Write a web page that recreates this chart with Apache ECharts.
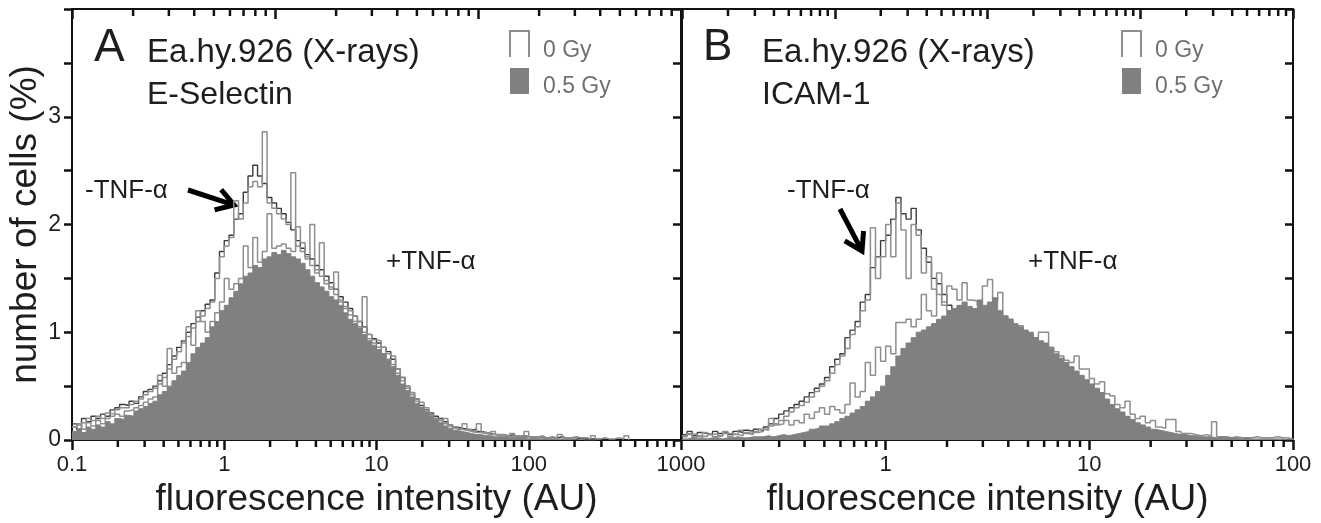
<!DOCTYPE html>
<html><head><meta charset="utf-8">
<script src="https://cdn.jsdelivr.net/npm/echarts@6/dist/echarts.min.js"></script>
<style>html,body{margin:0;padding:0;background:#fff}#c{width:1321px;height:523px}</style>
</head><body><div id="c"></div>
<script>
// ---------- data ----------
// histogram bins on a log10 intensity scale, starting at 0.1 AU
const xStartLog = -1;
const binsPerDecadeA = 32;
const binsPerDecadeB = 40;
const xTickLabelsA = ['0.1', '1', '10', '100', '1000'];
const xTickLabelsB = ['0.1', '1', '10', '100'];
const yTickLabels = ['0', '1', '2', '3'];

// Panel A: E-Selectin
const A_05Gy_plusTNF = [0.08,0.10,0.07,0.12,0.10,0.14,0.12,0.17,0.15,0.20,
 0.19,0.23,0.22,0.27,0.29,0.31,0.34,0.36,0.42,0.45,
 0.50,0.55,0.60,0.64,0.72,0.80,0.86,0.90,0.95,1.05,
 1.10,1.20,1.25,1.32,1.38,1.45,1.52,1.55,1.62,1.60,
 1.68,1.70,1.74,1.72,1.76,1.73,1.70,1.68,1.64,1.58,
 1.52,1.46,1.42,1.38,1.33,1.30,1.25,1.18,1.12,1.08,
 1.04,0.98,0.92,0.88,0.84,0.80,0.74,0.68,0.60,0.52,
 0.46,0.40,0.34,0.30,0.26,0.22,0.19,0.16,0.13,0.11,
 0.09,0.08,0.07,0.06,0.05,0.05,0.04,0.04,0.03,0.03,
 0.03,0.02,0.02,0.02,0.02,0.01,0.02,0.01,0.01,0.01,
 0.01,0.01,0.01,0.01,0.01,0.00,0.01,0.00,0.00,0.00];
const A_0Gy_minusTNF = [0.15,0.10,0.20,0.17,0.22,0.20,0.24,0.22,0.28,0.30,
 0.33,0.32,0.36,0.34,0.40,0.45,0.47,0.50,0.55,0.62,
 0.70,0.78,0.86,0.92,1.00,1.08,1.14,1.20,1.26,1.30,
 1.55,1.75,1.85,1.90,2.05,2.10,2.30,2.45,2.55,2.45,
 2.38,2.25,2.20,2.15,2.10,2.02,1.95,1.85,1.78,1.72,
 1.68,1.62,1.58,1.52,1.46,1.40,1.33,1.28,1.22,1.15,
 1.10,1.05,0.98,0.94,0.90,0.86,0.82,0.75,0.66,0.58,
 0.50,0.44,0.38,0.32,0.28,0.25,0.22,0.20,0.17,0.14,
 0.12,0.11,0.10,0.09,0.10,0.08,0.07,0.06,0.05,0.05,
 0.04,0.04,0.05,0.03,0.04,0.03,0.03,0.02,0.03,0.02,
 0.02,0.02,0.03,0.02,0.02,0.02,0.01,0.02,0.01,0.01,
 0.01,0.01];
const A_0Gy_plusTNF = [0.12,0.15,0.10,0.16,0.13,0.18,0.15,0.20,0.22,0.24,
 0.22,0.27,0.28,0.30,0.32,0.35,0.38,0.40,0.60,0.50,
 0.85,0.62,0.68,0.72,1.05,0.88,1.20,1.10,1.00,1.10,
 1.18,1.28,1.50,1.40,1.45,1.50,1.80,1.60,1.88,1.65,
 1.75,2.10,1.78,1.80,1.82,1.78,1.75,1.98,1.83,1.70,
 2.00,1.55,1.83,1.45,1.42,1.56,1.30,1.24,1.20,1.15,
 1.10,1.33,0.98,0.93,0.92,0.86,0.80,0.78,0.66,0.58,
 0.50,0.44,0.38,0.35,0.30,0.24,0.20,0.18,0.20,0.14,
 0.12,0.10,0.15,0.10,0.08,0.15,0.07,0.06,0.08,0.05,
 0.05,0.04,0.06,0.04,0.03,0.08,0.03,0.03,0.04,0.02,
 0.03,0.02,0.05,0.02,0.02,0.03,0.02,0.02,0.01,0.04,
 0.01,0.02,0.01,0.01,0.02,0.01,0.04];
const A_05Gy_minusTNF = [0.12,0.14,0.16,0.20,0.18,0.22,0.20,0.25,0.24,0.28,
 0.30,0.30,0.33,0.36,0.38,0.42,0.45,0.48,0.52,0.58,
 0.66,0.75,0.82,0.90,0.96,1.04,1.10,1.15,1.22,1.28,
 1.50,1.70,1.80,1.88,2.22,2.05,2.20,2.35,2.40,2.35,
 2.86,2.20,2.15,2.10,2.05,2.00,2.48,1.80,1.75,1.68,
 1.62,1.58,1.52,1.48,1.40,1.35,1.28,1.22,1.16,1.10,
 1.05,1.00,0.94,0.90,0.86,0.80,0.75,0.70,0.62,0.55,
 0.48,0.42,0.36,0.30,0.26,0.23,0.20,0.18,0.15,0.13,
 0.11,0.10,0.09,0.08,0.07,0.07,0.06,0.05,0.05,0.04,
 0.04,0.03,0.03,0.03,0.02,0.03,0.02,0.02,0.02,0.01];

// Panel B: ICAM-1
const B_05Gy_plusTNF = [0.01,0.02,0.01,0.02,0.01,0.02,0.02,0.01,0.02,0.02,
 0.03,0.02,0.02,0.03,0.03,0.03,0.04,0.03,0.04,0.05,
 0.04,0.05,0.06,0.07,0.08,0.10,0.11,0.13,0.13,0.15,
 0.17,0.20,0.22,0.25,0.28,0.31,0.36,0.40,0.45,0.50,
 0.60,0.68,0.78,0.85,0.90,0.95,1.00,1.02,1.05,1.08,
 1.12,1.15,1.20,1.22,1.25,1.28,1.24,1.22,1.30,1.25,
 1.28,1.32,1.20,1.15,1.12,1.08,1.05,1.02,1.00,0.95,
 0.92,0.90,0.85,0.80,0.76,0.72,0.68,0.64,0.60,0.56,
 0.52,0.48,0.44,0.38,0.33,0.29,0.26,0.22,0.19,0.16,
 0.14,0.12,0.10,0.09,0.08,0.07,0.06,0.05,0.05,0.04,
 0.04,0.03,0.03,0.03,0.02,0.03,0.02,0.02,0.02,0.01,
 0.02,0.01,0.01,0.01,0.01,0.01,0.01,0.01,0.00,0.01];
const B_0Gy_plusTNF = [0.03,0.05,0.02,0.04,0.03,0.05,0.03,0.04,0.06,0.03,
 0.05,0.04,0.06,0.05,0.07,0.08,0.10,0.20,0.14,0.15,
 0.18,0.14,0.18,0.16,0.24,0.20,0.26,0.30,0.24,0.31,
 0.28,0.25,0.33,0.53,0.40,0.45,0.72,0.60,0.86,0.73,
 0.87,0.80,1.09,1.09,1.12,1.05,1.12,1.35,1.20,1.15,
 1.55,1.25,1.43,1.40,1.30,1.46,1.30,1.29,1.25,1.43,
 1.49,1.30,1.37,1.15,1.12,1.06,1.06,1.00,0.98,0.95,
 1.00,1.00,0.86,0.82,0.78,0.74,0.72,0.78,0.66,0.66,
 0.57,0.52,0.54,0.43,0.41,0.33,0.30,0.36,0.24,0.20,
 0.22,0.16,0.18,0.12,0.11,0.19,0.19,0.08,0.06,0.06,
 0.05,0.04,0.05,0.04,0.17,0.03,0.03,0.02,0.03,0.02,
 0.02,0.02,0.03,0.02,0.02,0.02,0.03,0.02,0.02,0.01];
const B_0Gy_minusTNF = [0.05,0.08,0.04,0.07,0.06,0.05,0.08,0.06,0.07,0.05,
 0.08,0.07,0.09,0.08,0.10,0.09,0.12,0.15,0.20,0.24,
 0.27,0.30,0.33,0.36,0.40,0.44,0.48,0.52,0.58,0.68,
 0.75,0.80,0.95,1.02,1.10,1.28,1.35,1.60,1.70,1.85,
 1.90,2.05,2.25,2.10,2.05,2.15,1.95,1.78,1.65,1.50,
 1.45,1.35,1.25,1.15,1.05,1.00,0.92,0.85,0.80,0.72,
 0.66,0.60,0.55,0.50,0.45,0.40,0.36,0.32,0.28,0.25,
 0.22,0.19,0.16,0.14,0.12,0.10,0.08,0.07,0.06,0.05,
 0.04,0.04,0.03,0.03,0.03,0.02,0.02,0.02,0.02,0.01];
const B_05Gy_minusTNF = [0.04,0.06,0.05,0.03,0.07,0.05,0.06,0.04,0.08,0.06,
 0.05,0.09,0.07,0.06,0.08,0.10,0.09,0.13,0.15,0.18,
 0.22,0.26,0.30,0.32,0.35,0.40,0.45,0.50,0.55,0.62,
 0.70,0.78,0.85,0.98,1.05,1.20,1.30,1.97,1.50,1.70,
 2.00,1.70,2.20,1.95,1.50,2.00,1.90,1.55,1.70,1.40,
 1.35,1.28,1.20,1.10,1.00,0.95,0.88,0.82,0.76,0.70,
 0.64,0.58,0.52,0.47,0.42,0.38,0.34,0.30,0.26,0.23,
 0.20,0.17,0.15,0.13,0.11,0.09,0.08,0.06,0.05,0.04,
 0.04,0.03,0.03,0.02,0.02,0.02,0.01,0.01,0.01,0.01];

// ---------- helpers ----------
const FONT = 'Liberation Sans, Arial, sans-serif';
const AXC = '#111111';
const FILL = '#808080';
const DARK = '#3c3c3c';
const GRAY = '#8e8e8e';
const Y_MIN = 0, Y_MAX = 4;
const TICK_W = 2.5;

function stepData(values, bpd) {
  const pts = values.map((v, i) => [xStartLog + i / bpd, v]);
  pts.push([xStartLog + values.length / bpd, 0]);
  return pts;
}
function minorTicks(lo, hi) {
  const out = [];
  for (let d = lo; d < hi; d++) for (let m = 2; m <= 9; m++) out.push(d + Math.log10(m));
  return out;
}
function histSeries(name, values, bpd, xi, yi, color, width, filled, z) {
  const s = {
    name, type: 'line', xAxisIndex: xi, yAxisIndex: yi, data: stepData(values, bpd),
    step: 'end', symbol: 'none', showSymbol: false, silent: true, z: z,
    lineStyle: { color: color, width: width }
  };
  if (filled) s.areaStyle = { color: FILL, opacity: 1 };
  return s;
}
function mainX(grid, max, pos, labels, showLabels, inside, len, extra) {
  return Object.assign({
    type: 'value', gridIndex: grid, min: xStartLog, max: max, interval: 1, position: pos,
    axisLine: { show: true, onZero: false, lineStyle: { color: AXC, width: 2 } },
    axisTick: { show: true, inside: inside, length: len, lineStyle: { color: AXC, width: TICK_W } },
    axisLabel: { show: showLabels, margin: 14, fontSize: 22, fontFamily: FONT, color: '#1e1e1e',
      showMinLabel: grid === 0, showMaxLabel: true,
      formatter: v => labels[Math.round(v - xStartLog)] },
    splitLine: { show: false }
  }, extra || {});
}
function yAx(grid, pos, showLine, showTicks, inside, showLabels, extra) {
  return Object.assign({
    type: 'value', gridIndex: grid, min: Y_MIN, max: Y_MAX, interval: 0.5, position: pos,
    axisLine: { show: showLine, onZero: false, lineStyle: { color: AXC, width: 2 } },
    axisTick: { show: showTicks, inside: inside, length: 8, lineStyle: { color: AXC, width: TICK_W } },
    axisLabel: { show: showLabels, margin: 11, fontSize: 23, fontFamily: FONT, color: '#1e1e1e',
      formatter: v => (Number.isInteger(v) && v < yTickLabels.length) ? yTickLabels[v] : '' },
    splitLine: { show: false }
  }, extra || {});
}

const chart = echarts.init(document.getElementById('c'), null, { renderer: 'canvas' });

const titleStyle = { fontSize: 37, fontFamily: FONT, color: '#1e1e1e' };

const option = {
  animation: false,
  backgroundColor: '#ffffff',
  grid: [
    { left: 72, right: 640, top: 9, bottom: 82 },
    { left: 682, right: 28, top: 9, bottom: 82 }
  ],
  xAxis: [
    mainX(0, 3, 'bottom', xTickLabelsA, true, false, 10,
      { name: 'fluorescence intensity (AU)', nameLocation: 'middle', nameGap: 41, nameTextStyle: titleStyle }),
    mainX(0, 2, 'top', xTickLabelsB, false, true, 10),
    mainX(1, 2, 'bottom', xTickLabelsB, true, false, 10,
      { name: 'fluorescence intensity (AU)', nameLocation: 'middle', nameGap: 41, nameTextStyle: titleStyle }),
    mainX(1, 3, 'top', xTickLabelsA, false, true, 10)
  ],
  yAxis: [
    yAx(0, 'left', true, true, false, true,
      { name: 'number of cells (%)', nameLocation: 'middle', nameGap: 24, nameRotate: 90, nameTextStyle: titleStyle }),
    yAx(0, 'right', true, true, true, false),
    yAx(1, 'left', true, false, false, false),
    yAx(1, 'right', true, true, true, false)
  ],
  series: [
    histSeries('0 Gy', A_0Gy_minusTNF, binsPerDecadeA, 0, 0, DARK, 1.4, false, 2),
    histSeries('0.5 Gy', A_05Gy_minusTNF, binsPerDecadeA, 0, 0, GRAY, 1.5, false, 2),
    histSeries('0 Gy', A_0Gy_plusTNF, binsPerDecadeA, 0, 0, GRAY, 1.5, false, 2),
    histSeries('0.5 Gy', A_05Gy_plusTNF, binsPerDecadeA, 0, 0, FILL, 1, true, 3),
    histSeries('0 Gy', B_0Gy_minusTNF, binsPerDecadeB, 2, 2, DARK, 1.4, false, 2),
    histSeries('0.5 Gy', B_05Gy_minusTNF, binsPerDecadeB, 2, 2, GRAY, 1.5, false, 2),
    histSeries('0 Gy', B_0Gy_plusTNF, binsPerDecadeB, 2, 2, GRAY, 1.5, false, 2),
    histSeries('0.5 Gy', B_05Gy_plusTNF, binsPerDecadeB, 2, 2, FILL, 1, true, 3)
  ],
  graphic: { elements: [] }
};

function txt(x, y, text, size, color) {
  return { type: 'text', x: x, y: y, style: { text: text, font: size + 'px ' + FONT, fill: color || '#1e1e1e',
    verticalAlign: 'middle', align: 'left' } };
}
function arrow(x0, y0, x1, y1) {
  const ang = Math.atan2(y1 - y0, x1 - x0) + Math.PI;
  const L = 20, a = 0.56;
  const p1 = [x1 + L * Math.cos(ang + a), y1 + L * Math.sin(ang + a)];
  const p2 = [x1 + L * Math.cos(ang - a), y1 + L * Math.sin(ang - a)];
  return [
    { type: 'polyline', shape: { points: [[x0, y0], [x1 + 3 * Math.cos(ang), y1 + 3 * Math.sin(ang)]] },
      style: { stroke: '#000', lineWidth: 5, fill: null } },
    { type: 'polyline', shape: { points: [p1, [x1, y1], p2] },
      style: { stroke: '#000', lineWidth: 5, fill: null, lineJoin: 'miter' } }
  ];
}
function legend(x) {
  return [
    { type: 'polyline', shape: { points: [[x, 57], [x, 31], [x + 19, 31], [x + 19, 57]] },
      style: { stroke: GRAY, lineWidth: 2, fill: null } },
    { type: 'rect', shape: { x: x, y: 68, width: 19, height: 26 }, style: { fill: FILL } },
    txt(x + 33, 51, '0 Gy', 23, '#707070'),
    txt(x + 33, 87, '0.5 Gy', 23, '#707070')
  ];
}

const annotations = [].concat(
  [txt(94, 48, 'A', 46), txt(147, 53, 'Ea.hy.926 (X-rays)', 33), txt(147, 95, 'E-Selectin', 32)],
  legend(510),
  [txt(85, 191, '-TNF-α', 26), txt(386, 262, '+TNF-α', 26)],
  arrow(188, 190, 234, 205),
  [txt(703, 48, 'B', 44), txt(762, 53, 'Ea.hy.926 (X-rays)', 33), txt(762, 95, 'ICAM-1', 32)],
  legend(1122),
  [txt(787, 191, '-TNF-α', 26), txt(1028, 262, '+TNF-α', 26)],
  arrow(840, 209, 862, 251)
);
option.graphic.elements = annotations;
chart.setOption(option);

// minor (2..9) log ticks, positioned through each axis' own scale
const minorSpec = [
  { xi: 0, yi: 0, vals: minorTicks(-1, 3), yv: Y_MIN, len: 7 },
  { xi: 1, yi: 0, vals: minorTicks(-1, 2), yv: Y_MAX, len: 7 },
  { xi: 2, yi: 2, vals: minorTicks(-1, 2), yv: Y_MIN, len: 7 },
  { xi: 3, yi: 2, vals: minorTicks(-1, 3), yv: Y_MAX, len: 7 }
];
const tickEls = [];
minorSpec.forEach(s => {
  const py = chart.convertToPixel({ yAxisIndex: s.yi }, s.yv);
  s.vals.forEach(v => {
    const px = chart.convertToPixel({ xAxisIndex: s.xi }, v);
    tickEls.push({ type: 'line', shape: { x1: px, y1: py, x2: px, y2: py + s.len },
      style: { stroke: AXC, lineWidth: TICK_W } });
  });
});
chart.setOption({ graphic: { elements: annotations.concat(tickEls) } });
</script>
</body></html>
